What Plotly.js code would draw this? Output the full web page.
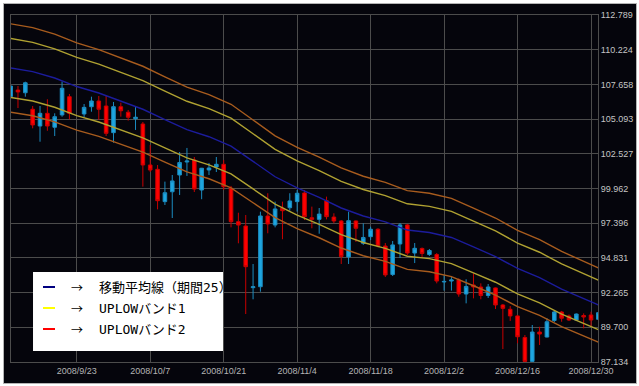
<!DOCTYPE html>
<html>
<head>
<meta charset="utf-8">
<script src="https://cdn.plot.ly/plotly-3.0.1.min.js"></script>
<style>
  html, body { margin:0; padding:0; background:#ffffff; }
  #chart { position:absolute; left:3px; top:3px; width:632px; height:379px; border:1px solid #b4b4b4; }
</style>
</head>
<body>
<div id="chart"></div>
<script>
// ---- data ----
const dates = [
 "2008/9/10","2008/9/11","2008/9/12","2008/9/15","2008/9/16","2008/9/17","2008/9/18","2008/9/19",
 "2008/9/22","2008/9/23","2008/9/24","2008/9/25","2008/9/26","2008/9/29","2008/9/30",
 "2008/10/1","2008/10/2","2008/10/3","2008/10/6","2008/10/7","2008/10/8","2008/10/9","2008/10/10",
 "2008/10/13","2008/10/14","2008/10/15","2008/10/16","2008/10/17","2008/10/20","2008/10/21","2008/10/22",
 "2008/10/23","2008/10/24","2008/10/27","2008/10/28","2008/10/29","2008/10/30","2008/10/31",
 "2008/11/3","2008/11/4","2008/11/5","2008/11/6","2008/11/7","2008/11/10","2008/11/11","2008/11/12",
 "2008/11/13","2008/11/14","2008/11/17","2008/11/18","2008/11/19","2008/11/20","2008/11/21",
 "2008/11/24","2008/11/25","2008/11/26","2008/11/27","2008/11/28",
 "2008/12/1","2008/12/2","2008/12/3","2008/12/4","2008/12/5","2008/12/8","2008/12/9","2008/12/10",
 "2008/12/11","2008/12/12","2008/12/15","2008/12/16","2008/12/17","2008/12/18","2008/12/19",
 "2008/12/22","2008/12/23","2008/12/24","2008/12/25","2008/12/26","2008/12/29","2008/12/30","2008/12/31"
];
const openP = [
 106.76,107.24,107.04,105.82,104.58,105.52,104.49,105.40,106.75,null,
 105.47,106.01,106.43,106.06,104.09,106.01,105.60,105.12,104.73,101.70,
 101.38,98.99,99.72,100.96,101.92,102.07,99.85,101.33,101.55,101.75,
 99.98,97.51,97.19,92.63,92.70,97.93,97.26,98.50,98.54,98.99,
 99.63,97.80,97.68,99.06,97.85,97.56,94.90,97.56,95.91,96.40,
 96.95,95.71,93.60,95.86,97.27,95.19,95.53,95.08,95.08,93.05,
 93.12,93.20,92.16,92.83,92.68,92.05,92.61,91.35,91.03,90.54,
 88.95,87.18,89.35,88.98,90.20,90.83,90.54,90.24,90.57,90.61,90.29
];
const highP = [
 107.58,107.54,107.86,106.06,106.06,106.56,105.52,107.86,106.95,null,
 106.21,106.75,106.80,106.80,106.36,106.31,105.77,106.06,104.88,103.18,
 101.70,100.47,100.96,102.66,102.96,102.29,101.48,101.85,102.29,102.07,
 100.15,98.17,98.00,94.38,98.25,99.61,98.99,98.99,99.61,99.85,
 99.85,98.62,98.52,99.36,98.13,97.63,98.25,97.60,97.39,97.14,
 97.02,95.93,96.08,97.41,97.34,95.93,95.60,95.49,95.19,93.57,
 93.49,93.32,93.25,93.69,92.95,92.90,92.64,91.42,91.27,90.61,
 89.13,89.87,89.74,90.37,90.91,90.91,90.65,90.72,90.73,90.85,90.83
];
const lowP = [
 106.73,105.91,106.75,104.41,103.42,104.23,103.84,105.27,105.08,null,
 105.23,105.64,105.03,103.84,103.35,105.27,104.98,104.29,100.10,101.18,
 98.42,98.74,97.78,99.48,100.89,99.70,99.17,100.96,101.18,99.85,
 97.09,95.91,90.68,91.77,92.33,96.65,97.09,96.21,98.32,98.25,
 97.63,97.02,96.62,97.68,97.39,94.38,94.38,96.01,95.79,96.15,
 95.61,93.42,93.49,94.82,95.05,94.45,94.90,94.97,92.95,92.41,
 92.41,91.96,91.47,91.84,91.77,91.87,91.05,88.09,90.17,88.52,
 87.14,87.14,88.39,88.95,90.09,90.11,90.17,90.20,89.62,89.74,90.24
];
const closeP = [
 107.54,107.10,107.78,104.66,105.52,104.58,105.27,107.37,105.52,null,
 105.96,106.43,105.82,104.04,106.01,105.71,105.23,105.23,101.70,101.33,
 99.06,99.65,100.52,101.88,101.99,99.92,101.46,101.48,101.75,100.09,
 97.51,97.26,94.18,92.70,97.93,97.34,98.45,98.32,99.04,99.61,
 97.88,97.68,98.07,97.88,97.56,94.93,97.58,97.02,96.34,96.95,
 95.71,93.57,95.79,97.27,95.19,95.54,95.16,95.38,93.12,93.09,
 93.20,92.16,92.72,92.68,92.05,92.68,91.35,91.10,90.54,89.00,
 87.18,89.35,89.20,90.11,90.83,90.37,90.24,90.68,90.46,90.24,90.78
];
// indicator lines read at every third trading day
const lineDates = [
 "2008/9/10","2008/9/15","2008/9/18","2008/9/23","2008/9/26","2008/10/1","2008/10/6","2008/10/9",
 "2008/10/14","2008/10/17","2008/10/22","2008/10/27","2008/10/30","2008/11/4","2008/11/7","2008/11/12",
 "2008/11/17","2008/11/20","2008/11/25","2008/11/28","2008/12/3","2008/12/8","2008/12/11","2008/12/16",
 "2008/12/19","2008/12/24","2008/12/29","2008/12/31"
];
const ma25 = [
 108.87,108.60,108.13,107.50,107.02,106.43,105.82,105.06,104.32,103.79,103.10,101.97,100.83,100.00,
 99.30,98.52,97.93,97.49,96.89,96.71,96.34,95.64,94.93,94.05,93.38,92.53,91.83,91.35
];
const band1Upper = [
 111.05,110.77,110.29,109.65,109.16,108.56,107.94,107.16,106.41,105.87,105.16,104.01,102.85,102.00,
 101.29,100.49,99.89,99.44,98.83,98.64,98.27,97.55,96.83,95.93,95.25,94.38,93.67,93.18
];
const band1Lower = [
 106.69,106.43,105.97,105.35,104.88,104.30,103.70,102.96,102.23,101.71,101.04,99.93,98.81,98.00,
 97.31,96.55,95.97,95.54,94.95,94.78,94.41,93.73,93.03,92.17,91.51,90.68,89.99,89.52
];
const band2Upper = [
 112.14,111.86,111.37,110.73,110.23,109.62,109.00,108.21,107.45,106.90,106.19,105.03,103.85,103.00,
 102.28,101.48,100.87,100.41,99.80,99.61,99.23,98.51,97.78,96.87,96.18,95.31,94.58,94.09
];
const band2Lower = [
 105.60,105.34,104.89,104.28,103.81,103.24,102.65,101.91,101.19,100.68,100.01,98.91,97.81,97.00,
 96.32,95.56,94.99,94.57,93.98,93.81,93.45,92.77,92.08,91.23,90.58,89.75,89.08,88.61
];
const xTicks = ["2008/9/23","2008/10/7","2008/10/21","2008/11/4","2008/11/18","2008/12/2","2008/12/16","2008/12/30"];
const yTicks = [87.134,89.700,92.265,94.831,97.396,99.962,102.527,105.093,107.658,110.224,112.789];
const legendLabels = ["移動平均線（期間25）","UPLOWバンド1","UPLOWバンド2"];
const legendColors = ["#000080","#ffff00","#ff0000"];

// ---- traces ----
const traces = [
  {type:'candlestick', x:dates, open:openP, high:highP, low:lowP, close:closeP,
   increasing:{line:{color:'#1b8cc0', width:1}, fillcolor:'#1ea6e0'},
   decreasing:{line:{color:'#c80000', width:1}, fillcolor:'#ff0000'},
   whiskerwidth:0, hoverinfo:'skip', showlegend:false},
  {type:'scatter', mode:'lines', x:lineDates, y:band2Upper, line:{color:'#a85c1e', width:1.4}, hoverinfo:'skip'},
  {type:'scatter', mode:'lines', x:lineDates, y:band1Upper, line:{color:'#b0a232', width:1.4}, hoverinfo:'skip'},
  {type:'scatter', mode:'lines', x:lineDates, y:ma25, line:{color:'#1c1c9c', width:1.4}, hoverinfo:'skip'},
  {type:'scatter', mode:'lines', x:lineDates, y:band1Lower, line:{color:'#b0a232', width:1.4}, hoverinfo:'skip'},
  {type:'scatter', mode:'lines', x:lineDates, y:band2Lower, line:{color:'#a85c1e', width:1.4}, hoverinfo:'skip'}
];

// ---- legend box (drawn as shapes + annotations) ----
const rowY = [0.2161, 0.1556, 0.0951];
const shapes = [
  {type:'rect', xref:'paper', yref:'paper', x0:0.0375, x1:0.3612, y0:0.0317, y1:0.2594,
   fillcolor:'#ffffff', line:{width:0}, layer:'above'}
];
const annotations = [];
legendLabels.forEach((lab, k) => {
  shapes.push({type:'line', xref:'paper', yref:'paper', x0:0.0545, x1:0.075, y0:rowY[k], y1:rowY[k],
    line:{color:legendColors[k], width:2}, layer:'above'});
  annotations.push({xref:'paper', yref:'paper', x:0.1116, y:rowY[k], text:'→', showarrow:false,
    xanchor:'center', yanchor:'middle', font:{family:'Noto Sans CJK JP', size:12, color:'#000000'}});
  annotations.push({xref:'paper', yref:'paper', x:0.1465, y:rowY[k], text:lab, showarrow:false,
    xanchor:'left', yanchor:'middle', font:{family:'DejaVu Sans Mono, Noto Sans CJK JP', size:13, color:'#000000'}});
});

const gridC = '#4c4c4c';
const layout = {
  width:632, height:379,
  margin:{l:7, r:38, t:11, b:21, pad:0},
  paper_bgcolor:'#05050c', plot_bgcolor:'#05050c',
  showlegend:false,
  xaxis:{type:'category', range:[0.05, 79.95], tickmode:'array', tickvals:xTicks,
    showgrid:true, gridcolor:gridC, gridwidth:1, showline:true, mirror:true, linecolor:gridC,
    ticks:'', zeroline:false, rangeslider:{visible:false}, fixedrange:true,
    tickfont:{family:'Liberation Sans Narrow, Liberation Sans, Arial', size:9, color:'#b4b4b4'}},
  yaxis:{range:[87.134, 112.789], side:'right', tickmode:'array', tickvals:yTicks,
    ticktext:yTicks.map(v => v.toFixed(3)),
    showgrid:true, gridcolor:gridC, gridwidth:1, showline:true, mirror:true, linecolor:gridC,
    ticks:'', zeroline:false, fixedrange:true,
    tickfont:{family:'Liberation Sans Narrow, Liberation Sans, Arial', size:9, color:'#c4c4c4'}},
  shapes:shapes,
  annotations:annotations
};

Plotly.newPlot('chart', traces, layout, {staticPlot:true, displayModeBar:false});
</script>
</body>
</html>
